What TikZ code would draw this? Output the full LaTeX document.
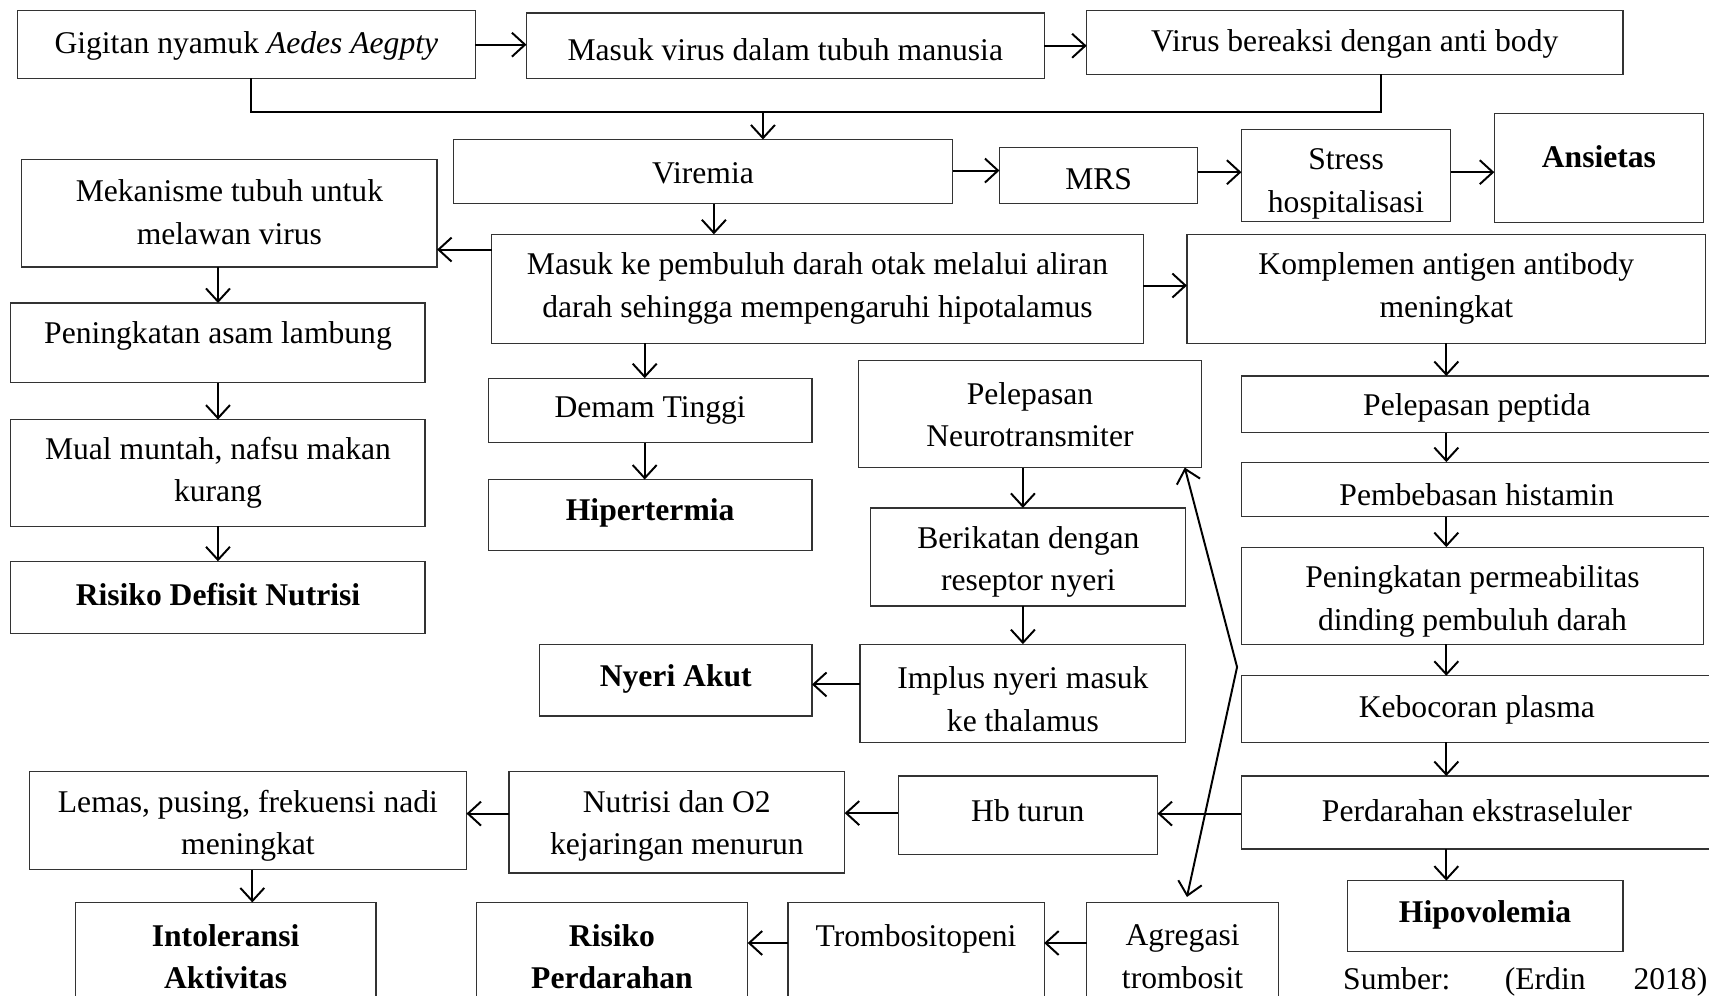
\documentclass[tikz,border=0pt]{standalone}
\usepackage{fontspec}
\setmainfont{Liberation Serif}
\usetikzlibrary{arrows.meta}
\tikzset{
  box/.style={draw=black!80, line width=0.55pt, inner sep=0pt, outer sep=0pt, fill=none},
  txt/.style={align=center, inner sep=0pt, yshift=-1.8pt, font=\fontsize{14.5}{19.5}\selectfont},
  arr/.style={line width=0.9pt, -{Straight Barb[length=6pt,width=11pt,line width=0.9pt]}},
  dbl/.style={line width=0.9pt, {Straight Barb[length=6pt,width=11pt,line width=0.9pt]}-{Straight Barb[length=6pt,width=11pt,line width=0.9pt]}},
  ln/.style={line width=0.9pt}
}
\newcommand{\bx}[7]{%
  \node[box, minimum width={(#4-#2)*0.5pt}, minimum height={(#5-#3)*0.5pt}] (#1) at ({(#2+#4)/2},{(#3+#5)/2}) {};
  \node[txt] (#1-t) at ({(#2+#4)/2},#6) {#7};}
\begin{document}
\begin{tikzpicture}[x=0.5pt,y=-0.5pt]
\useasboundingbox (0,0) rectangle (1568,913);
\bx{gig}{16}{10}{436}{72}{39}{Gigitan nyamuk \textit{Aedes Aegpty}}
\bx{mv}{483}{12}{958}{72}{42}{Masuk virus dalam tubuh manusia}
\bx{vb}{997}{10}{1489}{68}{37}{Virus bereaksi dengan anti body}
\bx{vir}{416}{128}{874}{187}{155}{Viremia}
\bx{mrs}{917}{135}{1099}{187}{161}{MRS}
\bx{st}{1139}{119}{1331}{203}{165}{Stress\\hospitalisasi}
\bx{ans}{1371}{104}{1563}{204}{140}{\textbf{Ansietas}}
\bx{mek}{20}{146}{401}{245}{191}{Mekanisme tubuh untuk\\melawan virus}
\bx{pemb}{451}{215}{1049}{315}{261}{Masuk ke pembuluh darah otak melalui aliran\\darah sehingga mempengaruhi hipotalamus}
\bx{kom}{1089}{215}{1565}{315}{261}{Komplemen antigen antibody\\meningkat}
\bx{pas}{10}{278}{390}{351}{305}{Peningkatan asam lambung}
\bx{mual}{10}{385}{390}{483}{430}{Mual muntah, nafsu makan\\kurang}
\bx{rdn}{10}{515}{390}{581}{542}{\textbf{Risiko Defisit Nutrisi}}
\bx{dem}{448}{347}{745}{406}{373}{Demam Tinggi}
\bx{hip}{448}{440}{745}{505}{467}{\textbf{Hipertermia}}
\bx{neu}{788}{331}{1102}{429}{377}{Pelepasan\\Neurotransmiter}
\bx{ber}{799}{466}{1088}{556}{512}{Berikatan dengan\\reseptor nyeri}
\bx{imp}{789}{591}{1088}{681}{638}{Implus nyeri masuk\\ke thalamus}
\bx{nye}{495}{591}{745}{657}{619}{\textbf{Nyeri Akut}}
\bx{pep}{1139}{345}{1571}{397}{371}{Pelepasan peptida}
\bx{his}{1139}{424}{1571}{474}{450}{Pembebasan histamin}
\bx{per}{1139}{502}{1563}{591}{548}{Peningkatan permeabilitas\\dinding pembuluh darah}
\bx{keb}{1139}{620}{1571}{681}{648}{Kebocoran plasma}
\bx{prd}{1139}{712}{1571}{779}{740}{Perdarahan ekstraseluler}
\bx{hpv}{1236}{808}{1489}{873}{836}{\textbf{Hipovolemia}}
\bx{hb}{824}{712}{1062}{784}{740}{Hb turun}
\bx{nut}{467}{708}{775}{801}{754}{Nutrisi dan O2\\kejaringan menurun}
\bx{lem}{27}{708}{428}{798}{754}{Lemas, pusing, frekuensi nadi\\meningkat}
\bx{int}{69}{828}{345}{935}{874}{\textbf{Intoleransi}\\\textbf{Aktivitas}}
\bx{rp}{437}{828}{686}{935}{874}{\textbf{Risiko}\\\textbf{Perdarahan}}
\bx{tro}{723}{828}{958}{935}{858}{Trombositopeni}
\bx{agr}{997}{828}{1173}{935}{874}{Agregasi\\trombosit}
\node[txt, anchor=west] (src) at (1232,897) {Sumber:\hspace{25pt}(Erdin\hspace{22pt}2018)};
% connectors
\coordinate (join) at (700,103);
\coordinate (bend) at (1135,612);
\draw[arr] (gig.east) -- (gig.east -| mv.west);
\draw[arr] (mv.east) -- (mv.east -| vb.west);
\draw[ln] ([xshift=2pt]gig.south) |- (join) -| ([xshift=12pt]vb.south);
\draw[arr] (join) -- (join |- vir.north);
\draw[arr] ([yshift=0.5pt]vir.east) -- ([yshift=0.5pt]vir.east -| mrs.west);
\draw[arr] ([yshift=1.5pt]mrs.east) -- ([yshift=1.5pt]mrs.east -| st.west);
\draw[arr] ([yshift=1.5pt]st.east) -- ([yshift=1.5pt]st.east -| ans.west);
\draw[arr] ([xshift=5pt]vir.south) -- ([xshift=5pt]vir.south |- pemb.north);
\draw[arr] ([yshift=18pt]pemb.west) -- ([yshift=18pt]pemb.west -| mek.east);
\draw[arr] ([yshift=1.5pt]pemb.east) -- ([yshift=1.5pt]pemb.east -| kom.west);
\draw[arr] (pas.north |- mek.south) -- (pas.north);
\draw[arr] (pas.south) -- (mual.north);
\draw[arr] (mual.south) -- (rdn.north);
\draw[arr] ([xshift=-2.5pt]dem.north |- pemb.south) -- ([xshift=-2.5pt]dem.north);
\draw[arr] ([xshift=-2.5pt]dem.south) -- ([xshift=-2.5pt]hip.north);
\draw[arr] ([xshift=-2.5pt]ber.north |- neu.south) -- ([xshift=-2.5pt]ber.north);
\draw[arr] ([xshift=-2.5pt]ber.south) -- ([xshift=-2.5pt]ber.south |- imp.north);
\draw[arr] ([yshift=4pt]imp.west) -- ([yshift=4pt]imp.west -| nye.east);
\draw[arr] (kom.south) -- (kom.south |- pep.north);
\draw[arr] (kom.south |- pep.south) -- (kom.south |- his.north);
\draw[arr] (kom.south |- his.south) -- (kom.south |- per.north);
\draw[arr] (kom.south |- per.south) -- (kom.south |- keb.north);
\draw[arr] (kom.south |- keb.south) -- (kom.south |- prd.north);
\draw[arr] (kom.south |- prd.south) -- (kom.south |- hpv.north);
\draw[arr] ([yshift=-0.5pt]prd.west) -- ([yshift=-0.5pt]prd.west -| hb.east);
\draw[arr] ([yshift=1pt]hb.west) -- ([yshift=1pt]hb.west -| nut.east);
\draw[arr] ([yshift=4pt]nut.west) -- ([yshift=4pt]nut.west -| lem.east);
\draw[arr] ([xshift=2pt]lem.south) -- ([xshift=2pt]lem.south |- int.north);
\draw[arr] ([yshift=-1.8pt]tro.west |- tro-t) -- ([yshift=-1.8pt]rp.east |- tro-t);
\draw[arr] ([yshift=-1.8pt]agr.west |- tro-t) -- ([yshift=-1.8pt]tro.east |- tro-t);
\draw[dbl] ([xshift=2pt,yshift=2.5pt]agr.north) -- (bend) -- ([xshift=-7.5pt]neu.south east);
\end{tikzpicture}
\end{document}
